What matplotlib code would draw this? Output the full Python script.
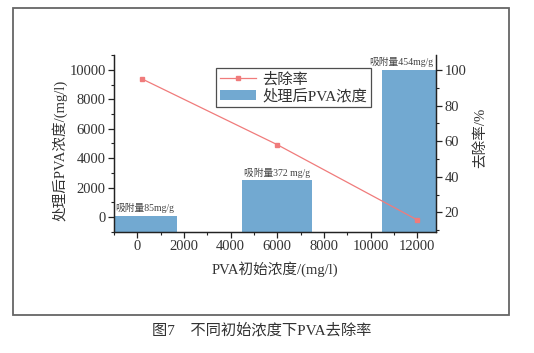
import matplotlib
matplotlib.use('Agg')
import matplotlib.pyplot as plt
from matplotlib.patches import Rectangle
from matplotlib.ticker import MultipleLocator

plt.rcParams['font.family'] = ['Liberation Serif', 'Noto Sans CJK SC']

# data
init_conc = [200, 6000, 12000]           # PVA initial concentration (mg/l)
after_conc = [60, 2480, 10000]           # PVA concentration after treatment (mg/l)
removal = [95, 58, 15.7]                 # removal rate (%)
adsorb_labels = ['吸附量85mg/g', '吸附量372 mg/g', '吸附量454mg/g']
adsorb_x = [-930, 6000, 11300]
adsorb_ha = ['left', 'center', 'center']

bar_color = '#72a9d1'
line_color = '#f07b7b'
txt_color = '#333333'
ybase = -1000

fig = plt.figure(figsize=(5.34, 3.53), dpi=100)
ax = fig.add_axes([0.2135, 0.3436, 0.603, 0.5004])
ax2 = ax.twinx()

# bars start from the bottom of the axis, like Origin does
bars = ax.bar(init_conc, [v - ybase for v in after_conc], bottom=ybase, width=3000,
              color=bar_color, label='处理后PVA浓度', zorder=2)
line, = ax2.plot(init_conc, removal, color=line_color, lw=0.9, marker='s', ms=3.5,
                 mfc=line_color, mec=line_color, label='去除率')

ax.set_xlim(-1000, 12800)
ax.set_ylim(ybase, 11000)
ax2.set_ylim(9.1, 108.4)

ax.xaxis.set_major_locator(MultipleLocator(2000))
ax.xaxis.set_minor_locator(MultipleLocator(1000))
ax.yaxis.set_major_locator(MultipleLocator(2000))
ax.yaxis.set_minor_locator(MultipleLocator(1000))
ax2.yaxis.set_major_locator(MultipleLocator(20))
ax2.yaxis.set_minor_locator(MultipleLocator(10))

for a in (ax, ax2):
    a.spines['top'].set_visible(False)
    a.tick_params(which='major', direction='out', length=4, width=0.9, labelsize=10.5,
                  colors='#222222', labelcolor=txt_color, pad=2)
    a.tick_params(which='minor', direction='out', length=2.5, width=0.8, colors='#222222')
    for s in a.spines.values():
        s.set_linewidth(0.9)
        s.set_color('#222222')

ax.set_xlabel('PVA初始浓度/(mg/l)', fontsize=10.5, color=txt_color)
ax.set_ylabel('处理后PVA浓度/(mg/l)', fontsize=10.5, color=txt_color)
ax2.set_ylabel('去除率/%', fontsize=10.5, color=txt_color)
ax.xaxis.set_label_coords(0.5, -0.17)
ax.yaxis.set_label_coords(-0.145, 0.46)
ax2.yaxis.set_label_coords(1.115, 0.53)

for x, h, t, ha in zip(adsorb_x, after_conc, adsorb_labels, adsorb_ha):
    ax.text(x, h + 180, t, ha=ha, va='bottom', fontsize=7, color='#444444')

leg = ax2.legend([line, bars], ['去除率', '处理后PVA浓度'], loc='upper left',
                 bbox_to_anchor=(0.4045, 0.807), bbox_transform=fig.transFigure,
                 borderaxespad=0, fontsize=11, frameon=True, fancybox=False,
                 handlelength=2.4, handleheight=0.6, handletextpad=0.4,
                 borderpad=0.25, labelspacing=0.15)
leg.get_frame().set_edgecolor('#222222')
leg.get_frame().set_linewidth(0.9)
for t in leg.get_texts():
    t.set_color(txt_color)

fig.patches.append(Rectangle((0.0243, 0.1076), 0.9288, 0.8697, transform=fig.transFigure,
                             fill=False, edgecolor='#666666', lw=1.3))
fig.text(0.49, 0.065, '图7    不同初始浓度下PVA去除率', ha='center', va='center',
         fontsize=11, color=txt_color)

fig.savefig('out.png', dpi=100)
